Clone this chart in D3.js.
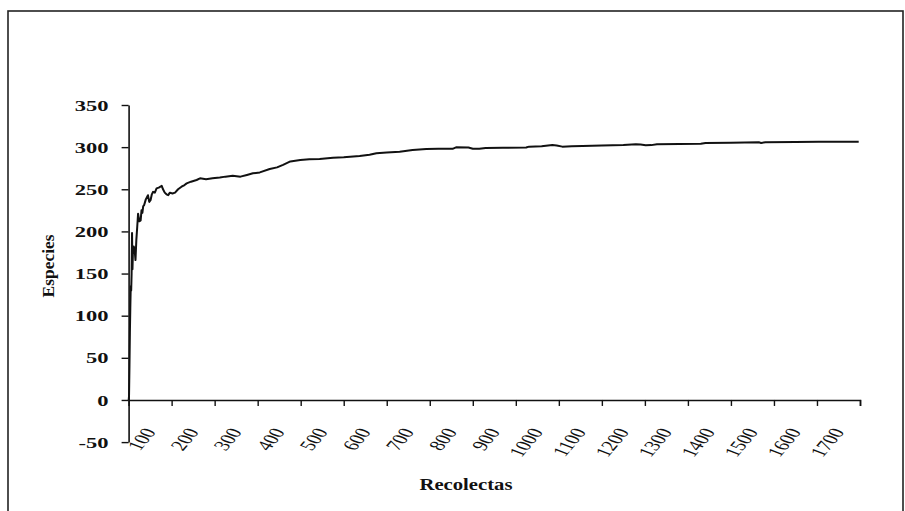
<!DOCTYPE html>
<html>
<head>
<meta charset="utf-8">
<script src="https://cdn.jsdelivr.net/npm/d3@7"></script>
<style>
  html, body { margin: 0; padding: 0; background: #fff; }
  svg { display: block; }
  text { font-family: "Liberation Serif", "Times New Roman", serif; fill: #111; }
</style>
</head>
<body>
<svg id="chart" width="905" height="511"></svg>
<script>
// ---- data ----
const recolectas = [1,2,3,4,5,6,7,8,9,10,12,14,16,18,20,22,25,28,30,32,34,36,40,45,48,51,54,57,61,65,70,77,80,84,88,92,96,102,108,115,123,130,135,145,158,166,180,195,212,225,242,260,275,289,305,328,345,359,376,399,420,444,475,500,537,560,576,600,630,660,692,720,753,761,790,800,815,830,870,924,931,960,985,995,1008,1030,1055,1100,1150,1179,1190,1202,1215,1228,1280,1330,1341,1400,1465,1470,1480,1550,1604,1650,1697];
const especies   = [5,40,80,110,135,130,150,198,155,175,182,178,166,190,205,221,212,213,225,222,230,231,238,243,235,237,244,247,246,251,252,254,250,246,244,243,246,245,246,250,253,255,257,259,261,263,262,263,264,265,266,265,267,269,270,274,276,279,283,284.7,285.5,286,287.5,288,289.5,291,292.7,293.5,294.6,296.6,297.8,298,298,299.8,299.5,298,298,299,299.3,299.5,300.6,301,302.5,302,300.6,301,301.3,302,302.5,303.4,303,302.2,302.4,303.4,303.6,304,305,305.2,305.7,305,305.8,306,306.3,306.4,306.5];
const yTicks = [-50,0,50,100,150,200,250,300,350];
const xTicks = [100,200,300,400,500,600,700,800,900,1000,1100,1200,1300,1400,1500,1600,1700];
const yTitle = "Especies";
const xTitle = "Recolectas";

const svg = d3.select("#chart");

// outer frame
svg.append("rect").attr("x", 8).attr("y", 11).attr("width", 895).attr("height", 520)
  .attr("fill", "none").attr("stroke", "#222").attr("stroke-width", 1.6);

const x = d3.scaleLinear().domain([0, 1700]).range([128.6, 860]);
const y = d3.scaleLinear().domain([-50, 350]).range([442.1, 105]);

// y axis
const gy = svg.append("g").attr("transform", `translate(${x(0)},0)`)
  .call(d3.axisLeft(y).tickValues(yTicks).tickSize(7).tickSizeOuter(0).tickFormat(d => String(d)));
gy.select(".domain").attr("stroke", "#111").attr("stroke-width", 1.6);
gy.selectAll(".tick line").attr("stroke", "#111").attr("stroke-width", 1.4);
gy.selectAll(".tick text")
  .attr("x", 0).attr("dy", "0.34em")
  .attr("transform", "translate(-20,0) scale(1.5,1)")
  .attr("text-anchor", "end")
  .style("font-family", "Liberation Serif").style("font-size", "15px").style("font-weight", "bold").attr("fill", "#111");

// x axis (at value 0)
const gx = svg.append("g").attr("transform", `translate(0,${y(0)})`)
  .call(d3.axisBottom(x).tickValues(xTicks).tickSize(6).tickSizeOuter(6).tickFormat(""));
gx.select(".domain").attr("stroke", "#111").attr("stroke-width", 1.6);
gx.selectAll(".tick line").attr("stroke", "#111").attr("stroke-width", 1.4);

// x tick labels, low position
svg.append("g").selectAll("text").data(xTicks).join("text")
  .attr("transform", d => `translate(${x(d) - 15},${432}) scale(1.5,1) rotate(-60)`)
  .attr("text-anchor", "end")
  .style("font-size", "15px").style("font-weight", "normal")
  .text(d => d);

// line
const pts = recolectas.map((c, i) => [c, especies[i]]);
const line = d3.line().x(d => x(d[0])).y(d => y(d[1]));
svg.append("path").datum([[0.3, 0], ...pts]).attr("d", line)
  .attr("fill", "none").attr("stroke", "#111").attr("stroke-width", 2).attr("stroke-linejoin", "round");

// titles
svg.append("text").attr("transform", "translate(54,266) rotate(-90)")
  .attr("text-anchor", "middle").attr("textLength", 63).attr("lengthAdjust", "spacingAndGlyphs")
  .style("font-size", "16px").style("font-weight", "bold")
  .text(yTitle);
svg.append("text").attr("x", 466).attr("y", 490)
  .attr("text-anchor", "middle").attr("textLength", 93).attr("lengthAdjust", "spacingAndGlyphs")
  .style("font-size", "17px").style("font-weight", "bold")
  .text(xTitle);
</script>
</body>
</html>
